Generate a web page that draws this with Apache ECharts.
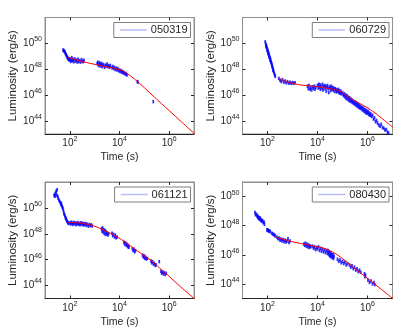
<!DOCTYPE html>
<html>
<head>
<meta charset="utf-8">
<script src="https://cdn.jsdelivr.net/npm/echarts@6/dist/echarts.min.js"></script>
<style>
  html, body { margin: 0; padding: 0; background: #fff; }
  #chart { width: 400px; height: 335px; }
</style>
</head>
<body>
<div id="chart"></div>
<script>
// GRB X-ray afterglow luminosity light curves with broken power-law fits.
// Values are log10(time / s) and log10(luminosity / erg s^-1).

const burstIds = ['050319', '060729', '061121', '080430'];

// ---- 050319 ----
const logT050319 = [1.73,1.75,1.77,1.79,1.81,1.83,1.85,1.87,1.89,1.91,1.93,1.95,1.97,
  2.0,2.03,2.05,2.08,2.1,2.13,2.16,2.2,2.23,2.27,2.3,2.33,2.36,2.4,2.43,2.47,2.5,2.54,2.57,
  3.1,3.13,3.15,3.18,3.2,3.22,3.25,3.27,3.3,3.33,3.36,3.4,3.43,3.47,3.5,3.53,3.57,3.6,3.63,
  3.7,3.73,3.76,3.8,3.83,3.87,3.9,3.93,3.97,4.0,4.03,4.07,4.1,4.13,4.17,4.2,4.23,4.27,4.3,
  4.72,4.74,5.36];
const logL050319 = [49.49,49.45,49.42,49.36,49.3,49.2,49.12,49.05,48.95,48.9,48.82,48.78,48.72,
  48.82,48.6,48.72,48.9,48.65,48.75,48.58,48.8,48.62,48.7,48.55,48.78,48.6,48.68,48.55,48.75,48.62,48.58,48.7,
  48.45,48.55,48.3,48.4,48.5,48.25,48.35,48.45,48.2,48.38,48.3,48.15,48.32,48.25,48.4,48.2,48.28,48.15,48.3,
  48.12,48.22,48.05,48.15,47.98,48.08,47.95,48.05,47.88,47.95,47.82,47.9,47.75,47.82,47.7,47.75,47.62,47.65,47.55,
  47.05,47.0,45.5];
const fitT050319 = [1.93,2.2,2.54,3.0,3.5,4.03,4.2,4.4,4.6,4.8,5.0,5.4,6.0,6.5,7.05];
const fitL050319 = [48.92,48.75,48.58,48.38,48.18,47.95,47.8,47.55,47.25,46.92,46.58,45.86,44.81,43.93,42.97];

// ---- 060729 ----
const logT060729 = [1.91,1.93,1.95,1.97,1.99,2.01,2.03,2.05,2.07,2.09,2.11,2.13,2.15,2.17,2.19,2.21,2.23,2.25,2.27,2.29,2.31,
  1.94,1.98,2.02,2.06,2.1,2.14,2.18,2.22,
  2.45,2.5,2.55,2.6,2.65,2.7,2.75,2.8,2.85,2.9,2.95,3.0,3.05,3.1,
  3.6,3.63,3.66,3.7,3.73,3.76,3.8,3.83,3.87,3.9,3.93,
  4.0,4.03,4.05,4.08,4.1,4.12,4.15,4.18,4.2,4.22,4.25,4.28,4.3,4.33,4.35,4.38,4.4,4.43,4.45,4.48,
  4.5,4.53,4.55,4.58,4.6,4.63,4.65,4.68,4.7,4.73,4.75,4.78,4.8,4.83,4.85,4.88,4.9,4.93,4.95,
  5.0,5.03,5.05,5.08,5.1,5.13,5.15,5.18,5.2,5.23,5.25,5.28,5.3,5.33,5.35,5.38,5.4,5.43,5.45,5.48,
  5.5,5.53,5.55,5.58,5.6,5.63,5.65,5.68,5.7,5.73,5.75,5.78,5.8,5.83,5.85,5.88,5.9,5.93,5.95,5.98,
  6.0,6.03,6.05,6.08,6.1,6.13,6.16,6.2,6.24,6.28,6.32,6.36,6.4,6.45,6.5,6.55,6.6,6.65,6.7,6.75,6.8,6.84];
const logL060729 = [50.12,49.95,49.85,49.72,49.6,49.48,49.35,49.22,49.1,48.95,48.85,48.7,48.55,48.42,48.3,48.12,47.98,47.82,47.68,47.56,47.45,
  49.75,49.45,49.2,48.95,48.7,48.5,48.2,47.9,
  47.3,47.15,47.05,47.2,47.0,47.1,46.95,47.05,46.92,47.0,46.9,46.98,46.92,46.95,
  46.7,46.5,46.75,46.45,46.6,46.4,46.65,46.5,46.7,46.45,46.6,
  46.75,46.55,46.85,46.6,46.8,46.45,46.7,46.55,46.85,46.4,46.65,46.75,46.5,46.7,46.3,46.6,46.75,46.5,46.2,46.65,
  46.55,46.35,46.7,46.45,46.6,46.4,46.55,46.3,46.5,46.45,46.25,46.4,46.3,46.45,46.2,46.35,46.15,46.3,46.1,
  46.2,46.05,45.95,46.1,45.85,46.0,45.75,45.95,45.7,45.85,45.6,45.8,45.55,45.7,45.5,45.62,45.42,45.55,45.35,45.48,
  45.3,45.45,45.2,45.35,45.15,45.3,45.05,45.2,45.0,45.12,44.95,45.05,44.85,45.0,44.78,44.9,44.7,44.85,44.62,44.75,
  44.6,44.75,44.5,44.62,44.45,44.55,44.35,44.45,44.15,44.25,43.95,44.05,43.85,43.7,43.6,43.75,43.5,43.45,43.3,43.35,43.15,43.08];
const fitT060729 = [2.45,2.8,3.32,3.8,4.13,4.5,4.94,5.21,5.6,6.02,6.3,6.56,6.8,7.05];
const fitL060729 = [47.3,47.02,46.79,46.7,46.62,46.5,46.28,45.89,45.45,45.0,44.62,44.23,43.85,43.47];

// ---- 061121 ----
const logT061121 = [1.37,1.39,1.41,1.43,1.45,1.47,1.49,1.51,1.53,1.56,1.59,1.62,1.64,1.66,1.68,1.7,1.72,1.74,1.76,1.78,1.8,1.82,1.84,1.86,1.88,1.9,1.92,1.95,
  2.0,2.03,2.06,2.09,2.12,2.15,2.18,2.21,2.24,2.27,2.3,2.33,2.36,2.39,2.42,2.45,2.48,2.51,2.54,2.57,2.6,2.63,2.66,2.7,2.74,2.78,2.82,2.86,2.9,
  3.28,3.3,3.32,3.35,3.37,3.4,3.42,3.45,3.47,3.5,3.53,3.56,
  3.7,3.73,3.76,3.8,3.83,3.86,3.9,
  4.18,4.21,4.24,4.27,4.3,4.33,4.36,4.38,
  4.52,4.55,4.58,4.61,4.64,
  4.93,4.96,4.99,5.02,5.05,5.08,5.12,
  5.27,5.3,5.33,5.37,5.4,5.44,5.47,5.6,
  5.67,5.7,5.73,5.77,5.8,5.84,5.88];
const logL061121 = [50.95,51.05,50.9,51.15,51.3,51.0,51.4,50.9,50.75,50.6,50.5,50.4,50.25,50.35,50.15,50.05,49.95,49.8,49.6,49.5,49.4,49.25,49.2,49.1,49.0,48.95,48.85,48.8,
  48.85,48.75,48.9,48.8,48.72,48.88,48.78,48.85,48.7,48.82,48.76,48.88,48.72,48.8,48.7,48.85,48.75,48.8,48.68,48.78,48.7,48.8,48.65,48.75,48.6,48.72,48.62,48.7,48.6,
  48.4,48.2,48.45,48.1,48.3,48.0,48.25,47.95,48.15,48.05,47.9,48.0,
  48.05,47.85,47.95,47.75,47.9,47.7,47.75,
  47.35,47.2,47.3,47.1,47.2,47.0,47.1,46.95,
  46.85,46.7,46.8,46.6,46.7,
  46.35,46.2,46.3,46.1,46.2,46.05,46.1,
  45.9,45.75,45.85,45.65,45.72,45.55,45.6,45.85,
  45.1,44.95,45.05,44.9,45.0,44.85,44.95];
const fitT061121 = [1.93,2.2,2.54,2.9,3.22,3.55,3.9,4.25,4.58,4.9,5.27,5.6,5.95,6.45,7.05];
const fitL061121 = [48.87,48.86,48.8,48.65,48.41,48.12,47.77,47.33,46.87,46.43,45.95,45.38,44.79,43.92,42.92];

// ---- 080430 ----
const logT080430 = [1.5,1.52,1.55,1.58,1.6,1.62,1.64,1.66,1.68,1.7,1.72,1.75,1.77,1.8,1.83,1.86,1.88,
  1.98,2.0,2.02,2.05,2.08,2.11,
  2.18,2.21,2.25,2.28,2.31,
  2.38,2.42,2.46,2.5,2.54,2.58,2.62,2.66,2.7,2.74,2.78,2.82,2.86,2.9,
  3.46,3.49,3.52,3.55,3.58,3.61,3.64,3.67,3.7,3.73,
  3.8,3.84,3.88,3.92,3.96,4.0,4.04,4.08,4.12,4.16,4.2,4.24,4.28,4.32,4.36,4.4,
  4.42,4.44,4.46,4.48,4.5,4.52,4.54,4.56,4.58,4.6,4.62,4.64,4.66,
  4.8,4.85,4.9,4.95,5.0,5.05,5.1,5.15,5.2,
  5.28,5.33,5.38,5.43,5.48,5.53,5.58,5.63,5.68,5.73,
  5.88,5.9,5.92,
  6.02,6.08,6.14,6.2,6.26,6.29];
const logL080430 = [48.9,48.75,48.8,48.65,48.7,48.55,48.6,48.5,48.45,48.55,48.38,48.42,48.3,48.35,48.2,48.25,48.1,
  47.72,47.68,47.7,47.62,47.65,47.58,
  47.48,47.42,47.4,47.35,47.3,
  47.2,47.1,47.15,47.0,47.08,46.95,47.05,46.9,47.0,46.88,46.95,47.1,46.85,46.95,
  46.75,46.65,46.8,46.6,46.72,46.55,46.68,46.5,46.62,46.55,
  46.6,46.45,46.55,46.35,46.5,46.4,46.55,46.3,46.45,46.25,46.4,46.2,46.35,46.15,46.3,46.1,
  46.3,46.05,46.2,45.95,46.15,45.9,46.1,45.85,46.0,45.8,46.0,45.75,45.9,
  45.7,45.55,45.65,45.45,45.55,45.4,45.5,45.3,45.4,
  45.3,45.15,45.25,45.05,45.15,44.95,45.05,44.85,44.95,44.8,
  44.7,44.5,44.6,
  44.25,44.1,44.2,44.0,44.1,43.95];
const fitT080430 = [2.31,2.8,3.32,4.0,4.2,4.4,4.6,4.8,5.0,5.2,5.4,5.7,6.02,6.5,7.05];
const fitL080430 = [47.23,46.98,46.78,46.55,46.47,46.36,46.2,45.99,45.74,45.47,45.2,44.78,44.36,43.7,42.95];

// tick positions (log10) on the axes
const timeTickExp = [2, 4, 6];
const lumTickExp = [44, 46, 48, 50];
// axis ranges (log10)
const timeRange = [1, 7];
const lumRanges = [[43, 52], [43, 52], [43, 52], [43, 51]];

const dataSets = [
  [logT050319, logL050319, fitT050319, fitL050319],
  [logT060729, logL060729, fitT060729, fitL060729],
  [logT061121, logL061121, fitT061121, fitL061121],
  [logT080430, logL080430, fitT080430, fitL080430]
];

const pow10 = v => Math.pow(10, v);
const pairs = (xs, ys) => xs.map((x, k) => [pow10(x), pow10(ys[k])]);

const panels = [
  { left: 45,    top: 17.5, width: 149, height: 116.5 },
  { left: 242.5, top: 17.5, width: 150, height: 116.5 },
  { left: 45,    top: 182,  width: 149, height: 116.5 },
  { left: 242.5, top: 182,  width: 150, height: 116.5 }
];

const ink = '#262626';
const frame = '#8f8f8f';
const font = 'Liberation Sans, Arial, sans-serif';
const timeTicks = timeTickExp.map(pow10);
const lumTicks = lumTickExp.map(pow10);

const powLabel = v => '{b|10}{e|' + Math.round(Math.log10(v)) + '}';
const labelRich = {
  b: { fontSize: 10, color: ink, fontFamily: font },
  e: { fontSize: 7, color: ink, fontFamily: font, padding: [0, 0, 8, 0] }
};

const grid = [], xAxis = [], yAxis = [], series = [], legend = [];

panels.forEach((p, i) => {
  grid.push(Object.assign({
    show: true, borderColor: frame, borderWidth: 1, backgroundColor: '#fff',
    containLabel: false, outerBoundsMode: 'none'
  }, p));

  const xBase = {
    type: 'log', logBase: 10, gridIndex: i,
    min: pow10(timeRange[0]), max: pow10(timeRange[1]),
    splitLine: { show: false }, minorTick: { show: false }
  };
  xAxis.push(Object.assign({}, xBase, {
    position: 'bottom',
    axisLine: { show: true, lineStyle: { color: ink, width: 1 } },
    axisTick: { show: true, inside: true, length: 3, lineStyle: { color: ink }, customValues: timeTicks },
    axisLabel: { show: true, margin: 2, customValues: timeTicks, formatter: powLabel, rich: labelRich },
    name: 'Time (s)', nameLocation: 'middle', nameGap: 18,
    nameTextStyle: { fontSize: 10.5, color: ink, fontFamily: font }
  }));
  xAxis.push(Object.assign({}, xBase, {
    position: 'top',
    axisLine: { show: true, lineStyle: { color: frame, width: 1 } },
    axisTick: { show: true, inside: true, length: 3, lineStyle: { color: ink }, customValues: timeTicks },
    axisLabel: { show: false }
  }));

  const yBase = {
    type: 'log', logBase: 10, gridIndex: i,
    min: pow10(lumRanges[i][0]), max: pow10(lumRanges[i][1]),
    splitLine: { show: false }, minorTick: { show: false }
  };
  yAxis.push(Object.assign({}, yBase, {
    position: 'left',
    axisLine: { show: true, lineStyle: { color: frame, width: 1 } },
    axisTick: { show: true, inside: true, length: 3, lineStyle: { color: ink }, customValues: lumTicks },
    axisLabel: { show: true, margin: 3, customValues: lumTicks, formatter: powLabel, rich: labelRich },
    name: 'Luminosity (erg/s)', nameLocation: 'middle', nameGap: 26,
    nameTextStyle: { fontSize: 11.5, color: ink, fontFamily: font }
  }));
  yAxis.push(Object.assign({}, yBase, {
    position: 'right',
    axisLine: { show: true, lineStyle: { color: frame, width: 1 } },
    axisTick: { show: true, inside: true, length: 3, lineStyle: { color: ink }, customValues: lumTicks },
    axisLabel: { show: false }
  }));

  const [lt, ll, ft, fl] = dataSets[i];
  series.push({
    name: burstIds[i], type: 'scatter',
    xAxisIndex: 2 * i, yAxisIndex: 2 * i,
    data: pairs(lt, ll),
    symbol: 'rect', symbolSize: [1.8, 3.5],
    itemStyle: { color: '#0000ff' },
    z: 2
  });
  series.push({
    name: 'fit ' + burstIds[i], type: 'line',
    xAxisIndex: 2 * i, yAxisIndex: 2 * i,
    data: pairs(ft, fl),
    showSymbol: false, symbol: 'none', smooth: 0.3,
    lineStyle: { color: '#ff0000', width: 1 },
    z: 3
  });

  const right = 400 - (p.left + p.width) + 3.5;
  legend.push({
    data: [burstIds[i]],
    right: right, top: p.top + 5,
    orient: 'horizontal',
    icon: 'rect', itemWidth: 27, itemHeight: 1.5,
    itemStyle: { color: '#a9aef7' },
    textStyle: { fontSize: 11, color: ink, fontFamily: font, padding: [0, 0, 0, -1] },
    borderColor: '#7f7f7f', borderWidth: 1, borderRadius: 0,
    padding: [2, 3, 2, 6], backgroundColor: '#fff',
    selectedMode: false
  });
});

const chart = echarts.init(document.getElementById('chart'), null, { renderer: 'canvas' });
chart.setOption({
  animation: false,
  backgroundColor: '#fff',
  grid, xAxis, yAxis, series, legend
});
</script>
</body>
</html>
